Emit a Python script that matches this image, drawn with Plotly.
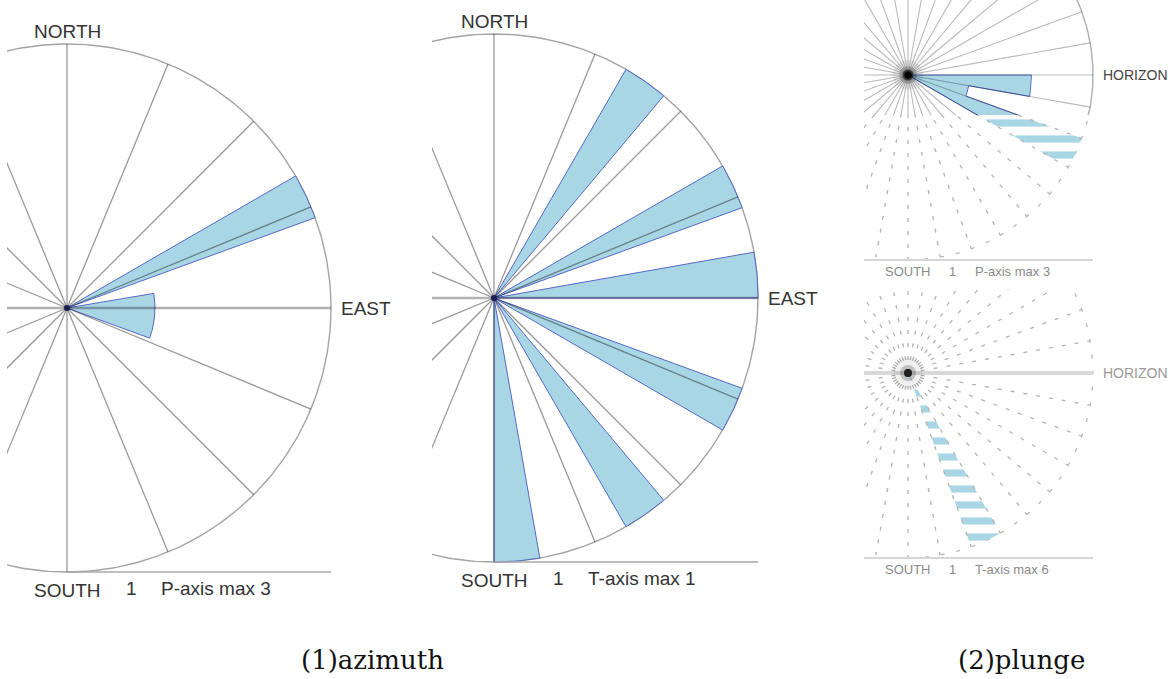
import numpy as np
import plotly.graph_objects as go

W, H = 1168, 679

# ---------------- data ----------------
az_edges = list(range(0, 190, 10))            # azimuth bins, degrees clockwise from north
p_az_counts = [0, 0, 0, 0, 0, 0, 3, 0, 1, 1, 1, 0, 0, 0, 0, 0, 0, 0]
t_az_counts = [0, 0, 0, 1, 0, 0, 1, 0, 1, 0, 0, 1, 0, 0, 1, 0, 0, 1]

pl_edges = list(range(0, 100, 10))            # plunge bins, degrees below horizon
p_pl_counts = [2, 1, 3, 0, 0, 0, 0, 0, 0]
t_pl_counts = [0, 0, 0, 0, 0, 0, 6, 0, 0]

az_spoke_step = 22.5
pl_spoke_step = 10

captions = ["(1)azimuth", "(2)plunge"]

# ---------------- style ----------------
FILL = "#a9d6e5"
EDGE = "#5468c8"
SPOKE = "rgba(0,0,0,0.40)"
LABEL_FONT = dict(family="Liberation Sans, Arial, sans-serif", size=19, color="#333333")

fig = go.Figure()
_axes = [0]


def panel(cx, cy, R, box):
    """New cartesian subplot: unit radius = R px, centre at (cx, cy) px, clipped to box."""
    _axes[0] += 1
    idx = _axes[0]
    x0, y0, x1, y1 = box
    sfx = "" if idx == 1 else str(idx)
    common = dict(visible=False, showgrid=False, zeroline=False, fixedrange=True)
    fig.layout["xaxis" + sfx] = dict(domain=[x0 / W, x1 / W],
                                     range=[(x0 - cx) / R, (x1 - cx) / R],
                                     anchor="y" + sfx, **common)
    fig.layout["yaxis" + sfx] = dict(domain=[1 - y1 / H, 1 - y0 / H],
                                     range=[(cy - y1) / R, (cy - y0) / R],
                                     anchor="x" + sfx, **common)
    return "x" + sfx, "y" + sfx


def az_xy(r, deg):
    a = np.radians(deg)
    return r * np.sin(a), r * np.cos(a)


def pl_xy(r, deg):
    a = np.radians(deg)
    return r * np.cos(a), -r * np.sin(a)


def rose(edges, counts, vmax, conv, xa, ya, striped=False):
    n = len(counts)
    i = 0
    while i < n:
        if counts[i] > 0:
            j = i
            while j + 1 < n and counts[j + 1] > 0:
                j += 1
            xs, ys = [0.0], [0.0]
            for k in range(i, j + 1):
                th = np.linspace(edges[k], edges[k + 1], 24)
                x, y = conv(counts[k] / vmax, th)
                xs += list(x)
                ys += list(y)
            xs.append(0.0)
            ys.append(0.0)
            if striped:
                kw = dict(fill="toself", fillcolor="rgba(0,0,0,0)",
                          fillpattern=dict(shape="-", size=16, solidity=0.45,
                                           fgcolor=FILL, bgcolor="rgba(0,0,0,0)",
                                           fillmode="replace"),
                          line=dict(color="rgba(0,0,0,0)", width=0))
            else:
                kw = dict(fill="toself", fillcolor=FILL, line=dict(color=EDGE, width=1))
            fig.add_trace(go.Scatter(x=xs, y=ys, mode="lines", xaxis=xa, yaxis=ya,
                                     hoverinfo="skip", showlegend=False, **kw))
            i = j + 1
        else:
            i += 1


def line(xs, ys, xa, ya, color, width, dash=None):
    fig.add_trace(go.Scatter(x=xs, y=ys, mode="lines", xaxis=xa, yaxis=ya, hoverinfo="skip",
                             showlegend=False, line=dict(color=color, width=width, dash=dash)))


def spokes(step, conv, skip=()):
    xs, ys = [], []
    for a in np.arange(0, 360, step):
        if float(a) in skip:
            continue
        x, y = conv(1.0, a)
        xs += [0, float(x), None]
        ys += [0, float(y), None]
    return xs, ys


def blob(xa, ya, layers):
    for s, c in layers:
        fig.add_trace(go.Scatter(x=[0], y=[0], mode="markers", xaxis=xa, yaxis=ya,
                                 hoverinfo="skip", showlegend=False,
                                 marker=dict(color=c, size=s, line=dict(width=0))))


def az_panel(cx, cy, R, box, counts, name):
    xa, ya = panel(cx, cy, R, box)
    vmax = max(counts)
    t = np.linspace(0, 360, 361)
    x, y = az_xy(1.0, t)
    line(x, y, xa, ya, "#a3a3a3", 1.4)
    rose(az_edges, counts, vmax, az_xy, xa, ya)
    sx, sy = spokes(az_spoke_step, az_xy, skip=(90.0, 270.0))
    line(sx, sy, xa, ya, SPOKE, 1.3)
    line([-1, 1], [0, 0], xa, ya, "rgba(0,0,0,0.30)", 2.6)     # east-west line
    line([0, 1], [-1, -1], xa, ya, "#a8a8a8", 1.4)              # scale line
    blob(xa, ya, [(6, "#1d1d55")])
    f = 1.0 / R
    fig.add_annotation(x=0, y=1 + 13 * f, xref=xa, yref=ya, text="NORTH", showarrow=False,
                       font=LABEL_FONT, xanchor="center", yanchor="middle")
    fig.add_annotation(x=1 + 8 * f, y=0, xref=xa, yref=ya, text="EAST", showarrow=False,
                       font=LABEL_FONT, xanchor="left", yanchor="middle")
    fig.add_annotation(x=0, y=-1 - 18 * f, xref=xa, yref=ya, text="SOUTH", showarrow=False,
                       font=LABEL_FONT, xanchor="center", yanchor="middle")
    fig.add_annotation(x=64 * f, y=-1 - 16 * f, xref=xa, yref=ya, text="1", showarrow=False,
                       font=LABEL_FONT, xanchor="center", yanchor="middle")
    fig.add_annotation(x=92 * f, y=-1 - 16 * f, xref=xa, yref=ya,
                       text=f"{name}-axis max {vmax}", showarrow=False,
                       font=LABEL_FONT, xanchor="left", yanchor="middle")


def pl_layer(xa, ya, counts, vmax, clean):
    t = np.linspace(-90, 90, 181)
    x, y = pl_xy(1.0, t)
    sx, sy = spokes(pl_spoke_step, pl_xy)
    if clean:
        line(x, y, xa, ya, "#a8a8a8", 1.3)
        rose(pl_edges, counts, vmax, pl_xy, xa, ya)
        line(sx, sy, xa, ya, "rgba(0,0,0,0.28)", 1.1)
        blob(xa, ya, [(30, "rgba(0,0,0,0.07)"), (18, "rgba(0,0,0,0.18)"),
                      (11, "rgba(0,0,0,0.55)"), (7, "#000000")])
    else:
        line(x, y, xa, ya, "#b8b8b8", 1.3, dash="4px,12px")
        rose(pl_edges, counts, vmax, pl_xy, xa, ya, striped=True)
        line(sx, sy, xa, ya, "#b3b3b3", 1.3, dash="4px,9px")
        line([-1.5, 1], [-1, -1], xa, ya, "#d6d6d6", 2.0)       # scale line


def pl_labels(xa, ya, R, horizon_col):
    f = 1.0 / R
    fig.add_annotation(x=1 + 8 * f, y=0, xref=xa, yref=ya, text="HORIZON", showarrow=False,
                       font=dict(family=LABEL_FONT["family"], size=14, color=horizon_col),
                       xanchor="left", yanchor="middle")


def pl_scale_text(xa, ya, R, name, vmax):
    f = 1.0 / R
    gfont = dict(family=LABEL_FONT["family"], size=13, color="#8a8a8a")
    fig.add_annotation(x=0, y=-1 - 11 * f, xref=xa, yref=ya, text="SOUTH", showarrow=False,
                       font=gfont, xanchor="center", yanchor="middle")
    fig.add_annotation(x=44 * f, y=-1 - 11 * f, xref=xa, yref=ya, text="1", showarrow=False,
                       font=gfont, xanchor="center", yanchor="middle")
    fig.add_annotation(x=65 * f, y=-1 - 11 * f, xref=xa, yref=ya,
                       text=f"{name}-axis max {vmax}", showarrow=False,
                       font=gfont, xanchor="left", yanchor="middle")


# azimuth roses
az_panel(67, 308, 264, (7, 0, 425, 615), p_az_counts, "P")
az_panel(494, 298, 264, (432, 0, 850, 615), t_az_counts, "T")

# plunge roses (upper: P, partly legible; lower: T)
R3 = 185
pmax = max(p_pl_counts)
tmax = max(t_pl_counts)
xa, ya = panel(908, 75, R3, (864, 115, 1168, 286))
pl_layer(xa, ya, p_pl_counts, pmax, clean=False)
pl_scale_text(xa, ya, R3, "P", pmax)
xa, ya = panel(908, 75, R3, (864, 0, 1168, 115))
pl_layer(xa, ya, p_pl_counts, pmax, clean=True)
pl_labels(xa, ya, R3, "#444444")

xa, ya = panel(908, 373, R3, (864, 289, 1168, 615))
pl_layer(xa, ya, t_pl_counts, tmax, clean=False)
line([-1.5, 1], [0, 0], xa, ya, "#d8d8d8", 4)
blob(xa, ya, [(30, "rgba(0,0,0,0.06)"), (16, "rgba(0,0,0,0.2)"), (8, "rgba(0,0,0,0.8)")])
pl_labels(xa, ya, R3, "#9a9a9a")
pl_scale_text(xa, ya, R3, "T", tmax)

cap_font = dict(family="DejaVu Serif, serif", size=26, color="#111111")
fig.add_annotation(x=372 / W, y=1 - 660 / H, xref="paper", yref="paper", text=captions[0],
                   showarrow=False, font=cap_font, xanchor="center", yanchor="middle")
fig.add_annotation(x=1021 / W, y=1 - 660 / H, xref="paper", yref="paper", text=captions[1],
                   showarrow=False, font=cap_font, xanchor="center", yanchor="middle")

fig.update_layout(width=W, height=H, margin=dict(l=0, r=0, t=0, b=0),
                  paper_bgcolor="white", plot_bgcolor="white", showlegend=False)

fig.write_html("out.html", config={"displayModeBar": False, "staticPlot": True},
               post_script="document.body.style.margin='0';document.body.style.overflow='hidden';")
